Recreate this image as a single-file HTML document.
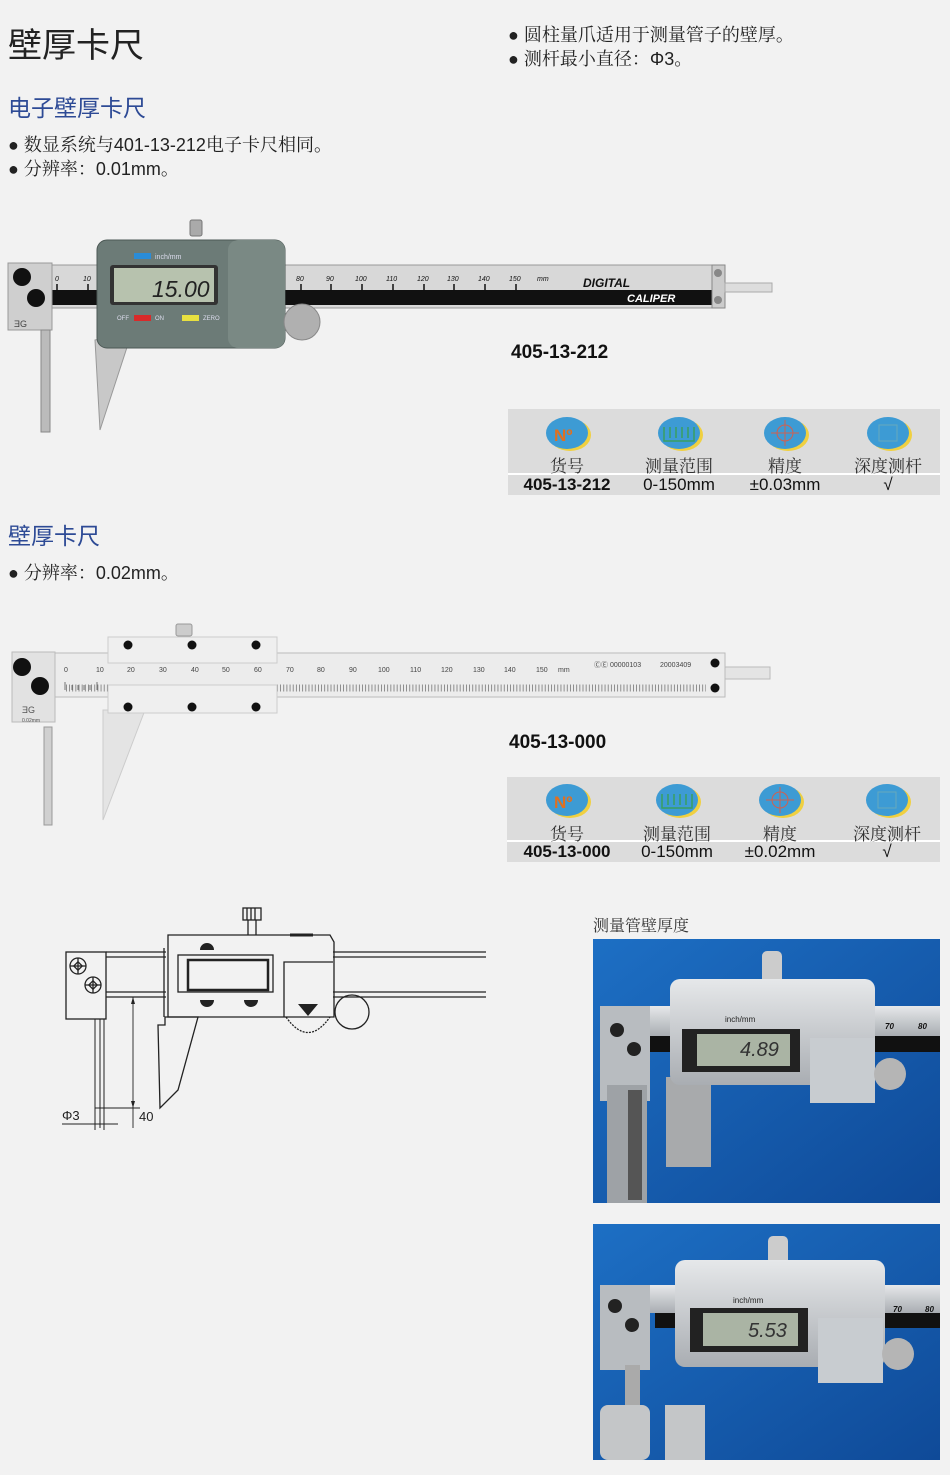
<!DOCTYPE html>
<html><head><meta charset="utf-8"><style>
body{margin:0;width:950px;height:1475px;background:#f2f2f2;position:relative;overflow:hidden;font-family:"Liberation Sans","Noto Sans CJK SC",sans-serif;}
.a{position:absolute;white-space:nowrap;}
.b{font-family:"Liberation Sans","Noto Serif CJK SC",serif;font-size:18px;color:#222;}
.h{font-family:"Liberation Sans","Noto Sans CJK SC",sans-serif;}
.tb{position:absolute;background:#dcdcdc;}
.c{position:absolute;text-align:center;width:110px;}
.lab{font-family:"Liberation Serif","Noto Serif CJK SC",serif;font-size:17px;color:#333;}
.val{font-size:17px;color:#111;}
</style></head><body>
<svg class="a" style="left:0;top:0" width="950" height="1475" viewBox="0 0 950 1475">
<defs>
<linearGradient id="bg" x1="0" y1="0" x2="1" y2="1"><stop offset="0" stop-color="#1d6fc4"/><stop offset="1" stop-color="#0f4a98"/></linearGradient>
<linearGradient id="sil" x1="0" y1="0" x2="0" y2="1"><stop offset="0" stop-color="#e6e8ea"/><stop offset="1" stop-color="#a9adb2"/></linearGradient>
</defs>
<!-- caliper 1 -->
<rect x="52" y="265" width="673" height="43" fill="#d8d8d8" stroke="#999"/>
<rect x="52" y="290" width="673" height="15" fill="#111"/>
<rect x="712" y="265" width="13" height="43" fill="#ccc" stroke="#888"/>
<circle cx="718" cy="273" r="4" fill="#888"/><circle cx="718" cy="300" r="4" fill="#888"/>
<rect x="725" y="283" width="47" height="9" fill="#ddd" stroke="#aaa"/>
<g font-size="7" font-style="italic" fill="#111" font-family="Liberation Sans">
<text x="55" y="281">0</text><text x="83" y="281">10</text>
<text x="296" y="281">80</text><text x="326" y="281">90</text><text x="355" y="281">100</text><text x="386" y="281">110</text><text x="417" y="281">120</text><text x="447" y="281">130</text><text x="478" y="281">140</text><text x="509" y="281">150</text><text x="537" y="281">mm</text></g>
<g stroke="#111" stroke-width="1.5"><line x1="57" y1="284" x2="57" y2="291"/><line x1="88" y1="284" x2="88" y2="291"/><line x1="301" y1="284" x2="301" y2="291"/><line x1="331" y1="284" x2="331" y2="291"/><line x1="362" y1="284" x2="362" y2="291"/><line x1="393" y1="284" x2="393" y2="291"/><line x1="424" y1="284" x2="424" y2="291"/><line x1="454" y1="284" x2="454" y2="291"/><line x1="485" y1="284" x2="485" y2="291"/><line x1="516" y1="284" x2="516" y2="291"/></g>
<text x="583" y="287" font-size="12" font-weight="bold" font-style="italic" fill="#111">DIGITAL</text>
<text x="627" y="302" font-size="11" font-weight="bold" font-style="italic" fill="#fff">CALIPER</text>
<rect x="8" y="263" width="44" height="67" fill="#cfcfcf" stroke="#999"/>
<circle cx="22" cy="277" r="9" fill="#111"/><circle cx="36" cy="298" r="9" fill="#111"/>
<text x="14" y="327" font-size="9" fill="#444">ƎG</text>
<rect x="41" y="330" width="9" height="102" fill="#bbb" stroke="#888"/>
<polygon points="95,340 132,332 100,430" fill="#c8c8c8" stroke="#999"/>
<rect x="190" y="220" width="12" height="16" rx="2" fill="#aaa" stroke="#777"/>
<rect x="97" y="240" width="188" height="108" rx="10" fill="#6c7b77" stroke="#4c5855"/>
<rect x="228" y="240" width="57" height="108" rx="10" fill="#7a8984"/>
<rect x="110" y="265" width="108" height="40" rx="3" fill="#333"/>
<rect x="114" y="268" width="100" height="34" fill="#b7c2ae"/>
<text x="152" y="297" font-size="23" font-style="italic" fill="#222" font-family="Liberation Sans">15.00</text>
<rect x="134" y="253" width="17" height="6" fill="#2a8cd8"/><text x="155" y="259" font-size="7" fill="#dde">inch/mm</text>
<rect x="134" y="315" width="17" height="6" fill="#d82a2a"/><text x="117" y="320" font-size="6" fill="#dde">OFF</text><text x="155" y="320" font-size="6" fill="#dde">ON</text>
<rect x="182" y="315" width="17" height="6" fill="#e8e040"/><text x="203" y="320" font-size="6" fill="#dde">ZERO</text>
<circle cx="302" cy="322" r="18" fill="#b0b0b0" stroke="#888"/>
<!-- caliper 2 -->
<rect x="55" y="653" width="670" height="44" fill="#ececec" stroke="#bbb"/>
<rect x="725" y="667" width="45" height="12" fill="#e4e4e4" stroke="#bbb"/>
<g stroke="#555" stroke-width="0.8"><path d="M65 690 V682 M72 690 V685 M78 690 V685 M84 690 V685 M90 690 V685 M97 690 V682"/></g>
<rect x="65" y="680" width="640" height="10" fill="none" stroke="none"/>
<g font-size="7" fill="#444"><text x="64" y="672">0</text><text x="96" y="672">10</text><text x="127" y="672">20</text><text x="159" y="672">30</text><text x="191" y="672">40</text><text x="222" y="672">50</text><text x="254" y="672">60</text><text x="286" y="672">70</text><text x="317" y="672">80</text><text x="349" y="672">90</text><text x="378" y="672">100</text><text x="410" y="672">110</text><text x="441" y="672">120</text><text x="473" y="672">130</text><text x="504" y="672">140</text><text x="536" y="672">150</text><text x="558" y="672">mm</text><text x="594" y="667">ⒸⒺ 00000103</text><text x="660" y="667">20003409</text></g>
<path d="M66 688 H706" stroke="#777" stroke-width="7" stroke-dasharray="0.8 2.35"/>
<circle cx="715" cy="663" r="4.5" fill="#111"/><circle cx="715" cy="688" r="4.5" fill="#111"/>
<rect x="12" y="652" width="43" height="70" fill="#e2e2e2" stroke="#bbb"/>
<circle cx="22" cy="667" r="9" fill="#111"/><circle cx="40" cy="686" r="9" fill="#111"/>
<text x="22" y="713" font-size="9" fill="#555">ƎG</text><text x="22" y="722" font-size="5" fill="#555">0.02mm</text>
<rect x="44" y="727" width="8" height="98" fill="#d0d0d0" stroke="#999"/>
<polygon points="103,710 145,710 103,820" fill="#e4e4e4" stroke="#ccc"/>
<rect x="176" y="624" width="16" height="12" rx="2" fill="#ccc" stroke="#999"/>
<rect x="108" y="637" width="169" height="26" fill="#efefef" stroke="#ccc"/>
<rect x="108" y="685" width="169" height="28" fill="#efefef" stroke="#ccc"/>
<circle cx="128" cy="645" r="4.5" fill="#111"/><circle cx="192" cy="645" r="4.5" fill="#111"/><circle cx="256" cy="645" r="4.5" fill="#111"/>
<circle cx="128" cy="707" r="4.5" fill="#111"/><circle cx="192" cy="707" r="4.5" fill="#111"/><circle cx="256" cy="707" r="4.5" fill="#111"/>
<!-- tables -->
<rect x="508" y="409" width="432" height="86" fill="#dcdcdc"/><line x1="508" y1="474" x2="940" y2="474" stroke="#fff" stroke-width="2"/>
<rect x="507" y="777" width="433" height="85" fill="#dcdcdc"/><line x1="507" y1="841" x2="940" y2="841" stroke="#fff" stroke-width="2"/>
<g>
<ellipse cx="570" cy="435" rx="21" ry="16" fill="#f0d040"/><ellipse cx="567" cy="433" rx="21" ry="16" fill="#3d9bd4"/>
<ellipse cx="682" cy="435" rx="21" ry="16" fill="#f0d040"/><ellipse cx="679" cy="433" rx="21" ry="16" fill="#3d9bd4"/>
<ellipse cx="788" cy="435" rx="21" ry="16" fill="#f0d040"/><ellipse cx="785" cy="433" rx="21" ry="16" fill="#3d9bd4"/>
<ellipse cx="891" cy="435" rx="21" ry="16" fill="#f0d040"/><ellipse cx="888" cy="433" rx="21" ry="16" fill="#3d9bd4"/>
<ellipse cx="570" cy="802" rx="21" ry="16" fill="#f0d040"/><ellipse cx="567" cy="800" rx="21" ry="16" fill="#3d9bd4"/>
<ellipse cx="680" cy="802" rx="21" ry="16" fill="#f0d040"/><ellipse cx="677" cy="800" rx="21" ry="16" fill="#3d9bd4"/>
<ellipse cx="783" cy="802" rx="21" ry="16" fill="#f0d040"/><ellipse cx="780" cy="800" rx="21" ry="16" fill="#3d9bd4"/>
<ellipse cx="890" cy="802" rx="21" ry="16" fill="#f0d040"/><ellipse cx="887" cy="800" rx="21" ry="16" fill="#3d9bd4"/>
</g>
<g font-weight="bold" font-size="17" fill="#e07020"><text x="554" y="441">Nº</text><text x="554" y="808">Nº</text></g>
<g fill="none" stroke="#3aa060" stroke-width="1.5"><path d="M664 427 V441 H694 V427 M670 427V438 M676 427V438 M682 427V438 M688 427V438"/><path d="M662 794 V808 H692 V794 M668 794V805 M674 794V805 M680 794V805 M686 794V805"/></g>
<g fill="none" stroke="#d06050" stroke-width="1"><circle cx="785" cy="433" r="8"/><path d="M771 433H799M785 420V446"/><circle cx="780" cy="800" r="8"/><path d="M766 800H794M780 787V813"/></g>
<g fill="none" stroke="#6ab" stroke-width="1"><rect x="879" y="425" width="18" height="16"/><rect x="878" y="792" width="18" height="16"/></g>
<!-- drawing -->
<g fill="none" stroke="#222" stroke-width="1.3">
<rect x="66" y="952" width="40" height="67"/>
<circle cx="78" cy="966" r="8"/><path d="M70 966h16M78 958v16"/><rect x="75" y="963" width="6" height="6" transform="rotate(45 78 966)"/>
<circle cx="93" cy="985" r="8"/><path d="M85 985h16M93 977v16"/><rect x="90" y="982" width="6" height="6" transform="rotate(45 93 985)"/>
<path d="M106 952H166M106 957H166M106 992H166M106 997H166M333 952H486M333 957H486M333 992H486M333 997H486"/>
<path d="M168 935H330L334 942V1017H168Z"/>
<path d="M164 948V1017"/>
<rect x="178" y="955" width="95" height="37"/><rect x="188" y="960" width="80" height="30" stroke-width="2.5"/>
<path d="M284 1017V962H333"/>
<rect x="243" y="908" width="18" height="12"/><path d="M247 908v12M251 908v12M255 908v12M248 920v15M256 920v15"/>
<path d="M158 1025H165V1017H198L178 1090L160 1108Z"/>
<path d="M95 1019V1130M104 1019V1130M100 1019V1128" stroke-width="1"/>
<path d="M133 997V1108M95 1108H140M133 1108V1128M62 1124H118" stroke-width="0.9"/>
<path d="M286 1017 Q308 1048 330 1017" stroke-dasharray="2 1.2"/>
<circle cx="352" cy="1012" r="17"/>
</g>
<path d="M290 935h23" stroke="#222" stroke-width="3"/>
<path d="M200 950a7 7 0 0 1 14 0zM200 1000a7 7 0 0 0 14 0zM244 1000a7 7 0 0 0 14 0z" fill="#222"/>
<polygon points="298,1004 318,1004 308,1016" fill="#222"/>
<polygon points="133,997 131,1004 135,1004" fill="#222"/><polygon points="133,1108 131,1101 135,1101" fill="#222"/>
<text x="62" y="1120" font-size="13" fill="#222">Φ3</text><text x="139" y="1121" font-size="13" fill="#222">40</text>
<!-- photo 1 -->
<rect x="593" y="939" width="347" height="264" fill="url(#bg)"/>
<rect x="600" y="1006" width="340" height="30" fill="url(#sil)"/><rect x="650" y="1036" width="290" height="16" fill="#111"/>
<rect x="600" y="1006" width="50" height="95" fill="#b8bcc0"/>
<circle cx="617" cy="1030" r="7" fill="#222"/><circle cx="634" cy="1049" r="7" fill="#222"/>
<rect x="607" y="1085" width="40" height="118" fill="#9ea2a6"/><rect x="628" y="1090" width="14" height="110" fill="#555"/>
<rect x="666" y="1077" width="45" height="90" fill="#a8aaac"/>
<rect x="762" y="951" width="20" height="35" rx="5" fill="#ccc"/>
<rect x="670" y="979" width="205" height="106" rx="10" fill="url(#sil)"/>
<rect x="682" y="1029" width="118" height="43" fill="#222"/><rect x="697" y="1034" width="93" height="32" fill="#aab4a4"/>
<text x="740" y="1056" font-size="20" font-style="italic" fill="#333">4.89</text>
<text x="725" y="1022" font-size="8" fill="#222">inch/mm</text>
<rect x="810" y="1038" width="65" height="65" fill="#c8ccd0"/>
<circle cx="890" cy="1074" r="16" fill="#b5b5b5"/>
<text x="885" y="1029" font-size="8" font-weight="bold" font-style="italic" fill="#111">70</text><text x="918" y="1029" font-size="8" font-weight="bold" font-style="italic" fill="#111">80</text>
<!-- photo 2 -->
<rect x="593" y="1224" width="347" height="236" fill="url(#bg)"/>
<rect x="600" y="1285" width="340" height="28" fill="url(#sil)"/><rect x="655" y="1313" width="285" height="15" fill="#111"/>
<rect x="600" y="1285" width="50" height="85" fill="#b8bcc0"/>
<circle cx="615" cy="1306" r="7" fill="#222"/><circle cx="632" cy="1325" r="7" fill="#222"/>
<rect x="625" y="1365" width="15" height="95" fill="#aaa"/>
<rect x="600" y="1405" width="50" height="55" rx="8" fill="#c4c6c8"/><rect x="665" y="1405" width="40" height="55" fill="#c4c6c8"/>
<rect x="768" y="1236" width="20" height="32" rx="5" fill="#ccc"/>
<rect x="675" y="1260" width="210" height="107" rx="10" fill="url(#sil)"/>
<rect x="690" y="1308" width="118" height="44" fill="#222"/><rect x="703" y="1313" width="95" height="33" fill="#aab4a4"/>
<text x="748" y="1337" font-size="20" font-style="italic" fill="#333">5.53</text>
<text x="733" y="1303" font-size="8" fill="#222">inch/mm</text>
<rect x="818" y="1318" width="65" height="65" fill="#c8ccd0"/>
<circle cx="898" cy="1354" r="16" fill="#b5b5b5"/>
<text x="893" y="1312" font-size="8" font-weight="bold" font-style="italic" fill="#111">70</text><text x="925" y="1312" font-size="8" font-weight="bold" font-style="italic" fill="#111">80</text>
</svg>

<div class="a h" style="left:8px;top:18px;font-size:34px;color:#222;">壁厚卡尺</div>
<div class="a b" style="left:508px;top:21px;">● 圆柱量爪适用于测量管子的壁厚。</div>
<div class="a b" style="left:508px;top:45px;">● 测杆最小直径：Φ3。</div>
<div class="a h" style="left:8px;top:89px;font-size:23px;color:#2d4a95;">电子壁厚卡尺</div>
<div class="a b" style="left:8px;top:131px;">● 数显系统与401-13-212电子卡尺相同。</div>
<div class="a b" style="left:8px;top:155px;">● 分辨率：0.01mm。</div>
<div class="a" style="left:511px;top:342px;font-size:19px;font-weight:bold;color:#111;">405-13-212</div>
<div class="a h" style="left:8px;top:517px;font-size:23px;color:#2d4a95;">壁厚卡尺</div>
<div class="a b" style="left:8px;top:559px;">● 分辨率：0.02mm。</div>
<div class="a" style="left:509px;top:732px;font-size:19px;font-weight:bold;color:#111;">405-13-000</div>

<div class="c lab" style="left:512px;top:452px;">货号</div>
<div class="c lab" style="left:624px;top:452px;">测量范围</div>
<div class="c lab" style="left:730px;top:452px;">精度</div>
<div class="c lab" style="left:833px;top:452px;">深度测杆</div>
<div class="c val" style="left:512px;top:475px;font-weight:bold;">405-13-212</div>
<div class="c val" style="left:624px;top:475px;">0-150mm</div>
<div class="c val" style="left:730px;top:475px;">±0.03mm</div>
<div class="c val" style="left:833px;top:475px;">√</div>

<div class="c lab" style="left:512px;top:820px;">货号</div>
<div class="c lab" style="left:622px;top:820px;">测量范围</div>
<div class="c lab" style="left:725px;top:820px;">精度</div>
<div class="c lab" style="left:832px;top:820px;">深度测杆</div>
<div class="c val" style="left:512px;top:842px;font-weight:bold;">405-13-000</div>
<div class="c val" style="left:622px;top:842px;">0-150mm</div>
<div class="c val" style="left:725px;top:842px;">±0.02mm</div>
<div class="c val" style="left:832px;top:842px;">√</div>

<div class="a lab" style="left:593px;top:913px;font-size:16px;">测量管壁厚度</div>
</body></html>
